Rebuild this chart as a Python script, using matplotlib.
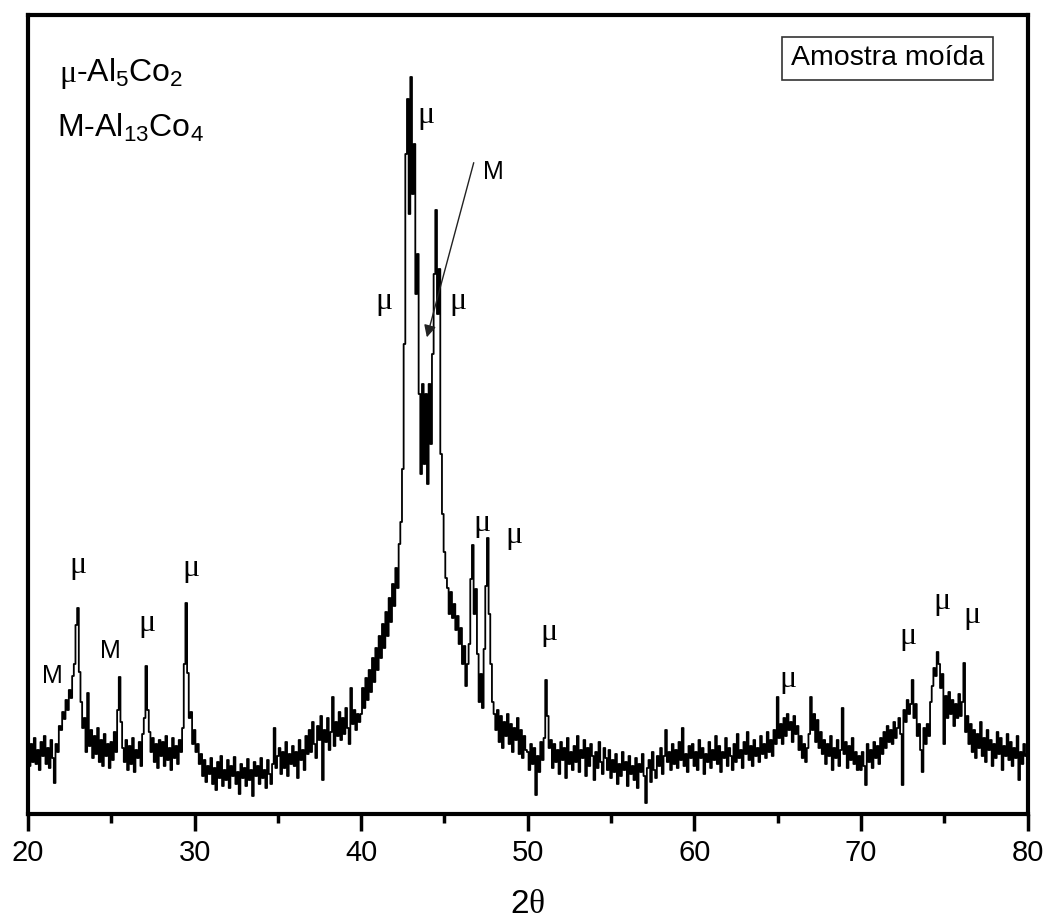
import numpy as np
import matplotlib
matplotlib.use('Agg')
from matplotlib import pyplot as plt

plt.rcParams['font.family'] = ['Liberation Sans', 'DejaVu Sans']
plt.rcParams['mathtext.fontset'] = 'custom'
plt.rcParams['mathtext.rm'] = 'Liberation Serif'
plt.rcParams['mathtext.default'] = 'regular'

i20 = [62, 48, 70, 52, 76, 50, 64, 44, 72, 58,
       78, 50, 66, 46, 74, 56, 31, 70, 62, 88,
       84, 102, 95, 114, 104, 124, 116, 138, 150, 189,
       206, 142, 112, 86, 96, 62, 121, 68, 84, 56,
       78, 60, 86, 52, 74, 48, 80, 58, 70, 46,
       72, 54, 82, 62, 104, 137, 92, 66, 52, 74,
       44, 68, 50, 76, 42, 64, 56, 72, 48, 80,
       96, 148, 104, 82, 62, 76, 52, 70, 46, 74,
       58, 72, 48, 78, 54, 66, 44, 76, 56, 68,
       50, 74, 62, 86, 150, 211, 141, 96, 102, 70]
i30 = [84, 62, 70, 50, 60, 38, 54, 32, 48, 40,
       56, 30, 46, 24, 52, 36, 58, 28, 44, 34,
       54, 26, 48, 38, 57, 30, 42, 20, 50, 36,
       46, 28, 55, 34, 44, 18, 52, 38, 48, 30,
       56, 36, 44, 26, 54, 40, 30, 50, 86, 46,
       58, 66, 40, 62, 46, 72, 38, 60, 50, 68,
       48, 62, 36, 74, 54, 64, 44, 78, 60, 84,
       62, 92, 70, 56, 88, 74, 98, 34, 84, 72,
       96, 64, 82, 117, 68, 92, 78, 102, 74, 96,
       80, 106, 86, 70, 126, 90, 104, 84, 100, 92]
i40 = [100, 126, 106, 136, 114, 144, 122, 156, 132, 166,
       144, 178, 156, 190, 166, 202, 178, 216, 192, 230,
       208, 246, 226, 270, 292, 345, 470, 660, 715, 600,
       737, 620, 670, 520, 560, 420, 340, 430, 350, 420,
       330, 430, 370, 460, 540, 604, 500, 545, 360, 300,
       262, 236, 226, 200, 222, 196, 210, 184, 198, 170,
       186, 150, 168, 128, 150, 170, 235, 269, 200, 225,
       160, 112, 140, 106, 165, 228, 276, 200, 150, 112,
       100, 84, 104, 72, 98, 66, 92, 78, 100, 70,
       90, 62, 86, 74, 96, 60, 84, 56, 78, 64]
i50 = [62, 44, 70, 50, 66, 19, 58, 42, 72, 54,
       76, 134, 98, 66, 74, 46, 70, 52, 64, 40,
       72, 54, 66, 36, 76, 50, 62, 44, 68, 52,
       78, 42, 64, 56, 74, 38, 66, 48, 70, 58,
       34, 62, 46, 72, 52, 40, 66, 56, 44, 64,
       36, 54, 42, 60, 30, 50, 38, 62, 44, 52,
       28, 58, 40, 48, 34, 56, 26, 50, 42, 60,
       38, 11, 46, 54, 32, 62, 44, 36, 58, 48,
       66, 40, 58, 84, 52, 62, 44, 70, 50, 64,
       46, 72, 54, 86, 48, 60, 42, 68, 56, 70]
i60 = [48, 62, 44, 74, 56, 66, 40, 60, 52, 72,
       46, 64, 54, 78, 50, 68, 42, 62, 56, 76,
       48, 66, 58, 44, 70, 52, 80, 56, 64, 46,
       72, 60, 82, 54, 68, 48, 74, 58, 66, 52,
       78, 60, 70, 56, 82, 62, 74, 58, 84, 70,
       117, 76, 90, 70, 96, 78, 100, 84, 92, 72,
       98, 80, 88, 64, 78, 56, 70, 52, 66, 80,
       117, 84, 100, 72, 94, 66, 82, 60, 74, 50,
       70, 58, 78, 44, 66, 56, 74, 48, 64, 106,
       60, 72, 46, 68, 54, 76, 50, 62, 44, 58]
i70 = [44, 62, 48, 29, 70, 52, 64, 46, 72, 56,
       68, 50, 76, 60, 82, 66, 88, 72, 84, 70,
       92, 76, 86, 96, 80, 29, 104, 92, 114, 100,
       110, 134, 96, 110, 78, 90, 64, 42, 86, 70,
       90, 78, 112, 128, 146, 138, 162, 150, 126, 140,
       70, 118, 96, 122, 100, 114, 88, 110, 96, 120,
       98, 112, 151, 82, 98, 70, 90, 62, 84, 56,
       80, 66, 92, 58, 76, 52, 84, 64, 74, 48,
       70, 56, 82, 60, 76, 44, 68, 58, 80, 54,
       72, 48, 66, 56, 78, 34, 62, 50, 70, 58]
i80 = [60]

two_theta = np.round(np.arange(20.0, 80.05, 0.1), 1)
counts = np.array(i20 + i30 + i40 + i50 + i60 + i70 + i80)

# identificacao das fases
peak_pos = [21.44, 23.0, 24.92, 27.14, 29.78, 41.37, 43.89, 45.81, 47.91,
            47.25, 49.17, 51.27, 65.62, 72.82, 74.86, 76.66]
peak_h = [138, 244, 163, 186, 241, 508, 694, 508, 642,
          286, 274, 177, 130, 173, 208, 194]
peak_phase = ['M', 'μ', 'M', 'μ', 'μ', 'μ', 'μ', 'μ', 'M',
              'μ', 'μ', 'μ', 'μ', 'μ', 'μ', 'μ']

fig = plt.figure(figsize=(10.47, 9.24), dpi=100)
ax = fig.add_axes([0.02674, 0.11905, 0.95464, 0.86472])

ax.plot(two_theta, counts, color='black', lw=1.3, drawstyle='steps-mid')

for x, y, t in zip(peak_pos, peak_h, peak_phase):
    if t == 'μ':
        ax.text(x, y + 4, t, fontsize=23, family='Liberation Serif',
                ha='center', va='center')
    else:
        ax.text(x, y, t, fontsize=18, ha='center', va='center')

# seta do pico M
ax.annotate('', xy=(43.9, 474), xytext=(46.8, 654),
            arrowprops=dict(arrowstyle='-|>', color='#222222', lw=1.0,
                            mutation_scale=18))

# legenda das fases (canto superior esquerdo)
mu_txt = ax.text(0.031, 0.916, 'μ', transform=ax.transAxes, fontsize=23,
                 family='Liberation Serif', ha='left', va='baseline')
fig.canvas.draw()
bb = mu_txt.get_window_extent()
x_after = ax.transAxes.inverted().transform((bb.x1, bb.y0))[0]
ax.text(x_after, 0.916, '-Al$_5$Co$_2$', transform=ax.transAxes,
        fontsize=23, ha='left', va='baseline')
ax.text(0.029, 0.847, 'M-Al$_{13}$Co$_4$', transform=ax.transAxes,
        fontsize=23, ha='left', va='baseline')

ax.text(0.86, 0.946, 'Amostra moída', transform=ax.transAxes, fontsize=20.5,
        ha='center', va='center',
        bbox=dict(boxstyle='square,pad=0.3', fc='white', ec='#333333', lw=1.2))

ax.set_xlim(20, 80)
ax.set_ylim(0, 799)
ax.set_yticks([])
ax.set_xticks(range(20, 81, 10))
ax.set_xticks(range(25, 80, 10), minor=True)
ax.tick_params(axis='x', which='major', direction='out', length=12, width=2.5,
               labelsize=21, pad=6)
ax.tick_params(axis='x', which='minor', direction='out', length=6.5, width=2.5)
for s in ax.spines.values():
    s.set_linewidth(3)
ax.set_xlabel(r'2$\mathrm{\theta}$', fontsize=24, labelpad=16)

fig.savefig('out.png', dpi=100)
